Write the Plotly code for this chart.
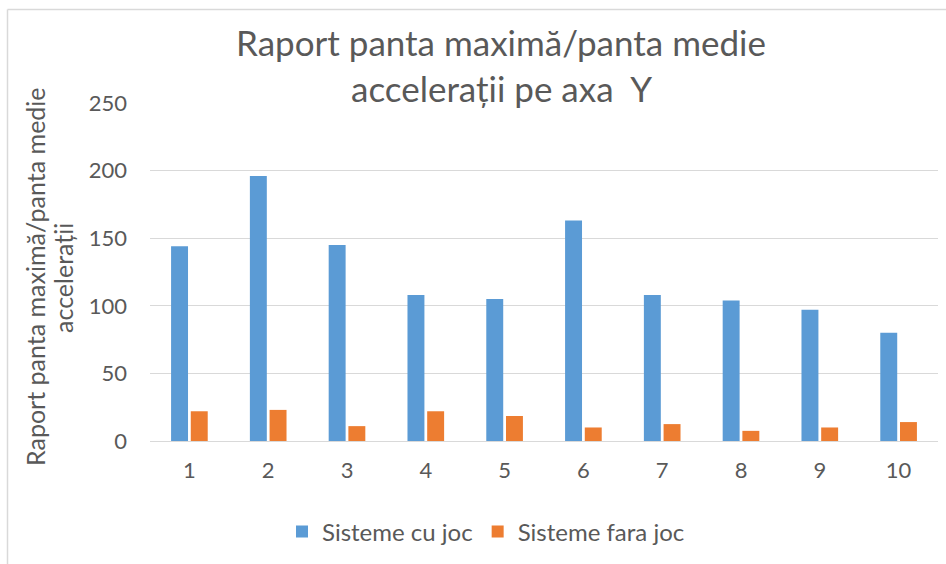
import plotly.graph_objects as go

# Categories (experiment index) and the two measured series
categories = ["1", "2", "3", "4", "5", "6", "7", "8", "9", "10"]
cu_joc = [144, 196, 145, 108, 105, 163, 108, 104, 97, 80]
fara_joc = [22, 23, 11, 22, 18.5, 10, 12.5, 7.5, 10, 14]
y_ticks = [0, 50, 100, 150, 200, 250]

FONT = "Lato"
GREY = "#595959"
GRID = "#d9d9d9"

W, H = 946, 564
L, R, T, B = 150, 8, 103, 123
PW, PH = W - L - R, H - T - B


def px_x(px):
    return (px - L) / PW


def px_y(py):
    return (H - B - py) / PH


fig = go.Figure()
fig.add_trace(go.Bar(x=categories, y=cu_joc, name="Sisteme cu joc",
                     marker=dict(color="#5B9BD5", line=dict(width=0))))
fig.add_trace(go.Bar(x=categories, y=fara_joc, name="Sisteme fara joc",
                     marker=dict(color="#ED7D31", line=dict(width=0))))

fig.update_layout(
    width=W, height=H,
    margin=dict(l=L, r=R, t=T, b=B, autoexpand=False),
    paper_bgcolor="white", plot_bgcolor="white",
    barmode="group", bargap=0.5, bargroupgap=0.14,
    font=dict(family=FONT, color=GREY, size=22),
    showlegend=True,
    legend=dict(orientation="h", x=px_x(486), xanchor="center",
                y=px_y(532), yanchor="middle", font=dict(size=24, color=GREY),
                itemwidth=30, traceorder="normal"),
    xaxis=dict(showgrid=False, showline=True, linecolor=GRID, linewidth=1,
               ticks="", tickfont=dict(size=22, color=GREY),
               ticklabelstandoff=10),
    yaxis=dict(range=[0, 250], tickvals=y_ticks, showgrid=True,
               gridcolor=GRID, gridwidth=1, zeroline=False, showline=False,
               ticks="", tickfont=dict(size=22, color=GREY),
               ticklabelstandoff=22),
)

# chart title, two lines
fig.add_annotation(text="Raport panta maximă/panta medie", xref="paper", yref="paper",
                   x=px_x(501), y=px_y(42), showarrow=False,
                   xanchor="center", yanchor="middle", font=dict(size=35, color=GREY))
fig.add_annotation(text="accelerații pe axa  Y", xref="paper", yref="paper",
                   x=px_x(501), y=px_y(88), showarrow=False,
                   xanchor="center", yanchor="middle", font=dict(size=35, color=GREY))

# y-axis title, two rotated lines
fig.add_annotation(text="Raport panta maximă/panta medie",
                   xref="paper", yref="paper", x=px_x(35), y=px_y(277),
                   showarrow=False, textangle=-90, xanchor="center",
                   yanchor="middle", font=dict(size=25, color=GREY))
fig.add_annotation(text="accelerații",
                   xref="paper", yref="paper", x=px_x(63), y=px_y(278),
                   showarrow=False, textangle=-90, xanchor="center",
                   yanchor="middle", font=dict(size=25, color=GREY))

# chart frame (top and left edges)
fig.add_shape(type="line", xref="paper", yref="paper",
              x0=px_x(7.5), x1=px_x(W + 5), y0=px_y(9.5), y1=px_y(9.5),
              line=dict(color=GRID, width=1.5))
fig.add_shape(type="line", xref="paper", yref="paper",
              x0=px_x(7.5), x1=px_x(7.5), y0=px_y(9.5), y1=px_y(H + 5),
              line=dict(color=GRID, width=1.5))

fig.write_html("out.html")
